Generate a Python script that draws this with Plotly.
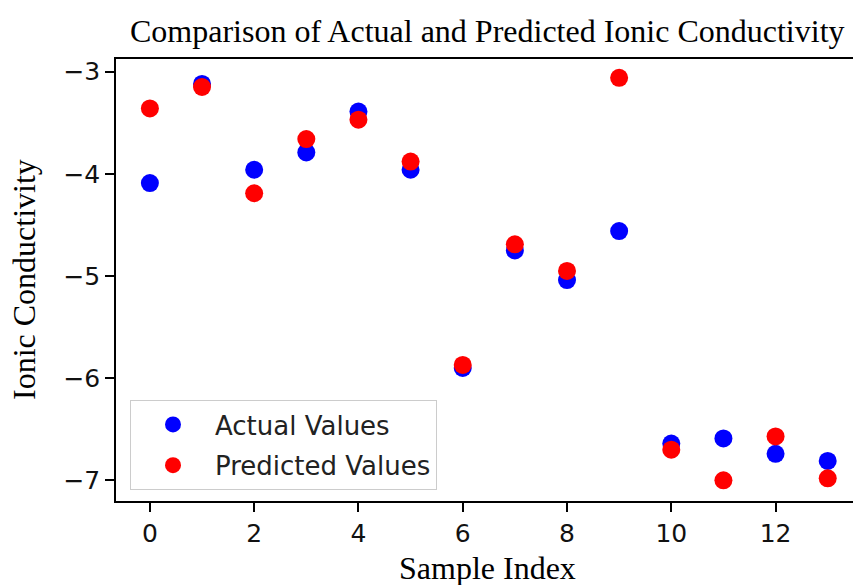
import plotly.graph_objects as go

sample_index = list(range(14))
actual_values = [-4.09, -3.12, -3.96, -3.79, -3.39, -3.96, -5.90, -4.75, -5.04, -4.56, -6.64, -6.59, -6.74, -6.81]
predicted_values = [-3.36, -3.15, -4.19, -3.66, -3.47, -3.88, -5.87, -4.69, -4.95, -3.06, -6.70, -7.00, -6.57, -6.98]

x_ticks = [0, 2, 4, 6, 8, 10, 12]
y_ticks = [-7, -6, -5, -4, -3]

W, H = 853, 585
ML, MR, MT, MB = 116, 0, 59, 84

fig = go.Figure()
fig.add_trace(go.Scatter(
    x=sample_index, y=actual_values, mode="markers", name="Actual Values",
    legendgroup="a",
    marker=dict(color="#0000ff", size=18, line=dict(width=0)),
))
fig.add_trace(go.Scatter(
    x=sample_index, y=predicted_values, mode="markers", name="Predicted Values",
    legendgroup="p",
    marker=dict(color="#ff0000", size=18, line=dict(width=0)),
))

serif = "Liberation Serif, Times New Roman, serif"
sans = "DejaVu Sans, sans-serif"

fig.update_layout(
    width=W, height=H,
    margin=dict(l=ML, r=MR, t=MT, b=MB, pad=0),
    paper_bgcolor="white", plot_bgcolor="white",
    showlegend=True,
    legend=dict(
        x=(130 - ML) / (W - ML - MR), y=(H - MB - 400) / (H - MT - MB),
        xanchor="left", yanchor="top",
        font=dict(family=sans, size=26, color="#222222"),
        bgcolor="rgba(255,255,255,0.8)", bordercolor="#cccccc", borderwidth=1,
        itemwidth=74, tracegroupgap=4,
    ),
    xaxis=dict(
        range=[-0.65, -0.65 + (W - ML - MR) / 52.14],
        tickmode="array", tickvals=x_ticks,
        showgrid=False, zeroline=False,
        showline=True, linecolor="black", linewidth=1.5, mirror=True,
        ticks="outside", ticklen=9, tickwidth=1.5, tickcolor="black",
        tickfont=dict(family=sans, size=25, color="#111111"),
    ),
    yaxis=dict(
        range=[-7.202, -2.876],
        tickmode="array", tickvals=y_ticks,
        tickformat="d",
        showgrid=False, zeroline=False,
        showline=True, linecolor="black", linewidth=1.5, mirror=False,
        ticks="outside", ticklen=9, tickwidth=1.5, tickcolor="black",
        tickfont=dict(family=sans, size=25, color="#111111"),
    ),
    annotations=[
        dict(text="Comparison of Actual and Predicted Ionic Conductivity",
             xref="paper", yref="paper", x=(487.5 - ML) / (W - ML - MR), y=1,
             yshift=28, xanchor="center", yanchor="middle", showarrow=False,
             font=dict(family=serif, size=32, color="black")),
        dict(text="Sample Index",
             xref="paper", yref="paper", x=(487.5 - ML) / (W - ML - MR), y=0,
             yshift=-67, xanchor="center", yanchor="middle", showarrow=False,
             font=dict(family=serif, size=32, color="black")),
        dict(text="Ionic Conductivity", textangle=-90,
             xref="paper", yref="paper", x=0, y=(H - MB - 280) / (H - MT - MB),
             xshift=-(ML - 24), xanchor="center", yanchor="middle", showarrow=False,
             font=dict(family=serif, size=32, color="black")),
    ],
)

fig.write_html("out.html")
